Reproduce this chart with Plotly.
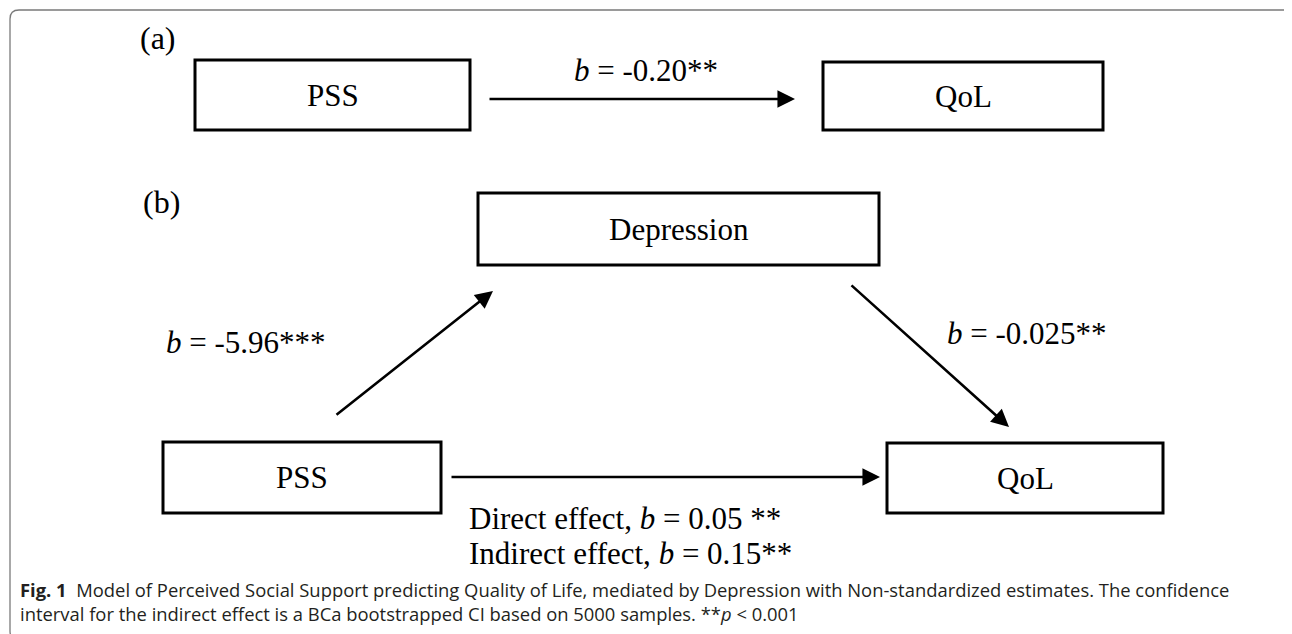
import plotly.graph_objects as go

# ---- content ----
panel_labels = ["(a)", "(b)"]
node_labels = ["PSS", "QoL", "Depression", "PSS", "QoL"]
path_labels = ["<i>b</i> = -0.20**", "<i>b</i> = -5.96***", "<i>b</i> = -0.025**"]
effect_labels = ["Direct effect, <i>b</i> = 0.05 **", "Indirect effect, <i>b</i> = 0.15**"]
caption_lines = [
    "<b>Fig. 1</b>  Model of Perceived Social Support predicting Quality of Life, mediated by Depression with Non-standardized estimates. The confidence",
    "interval for the indirect effect is a BCa bootstrapped CI based on 5000 samples. **<i>p</i> < 0.001",
]

# ---- layout geometry (page pixels) ----
W, H = 1292, 634
OFF = 8  # default page margin around the plot div
panel_pos = [(158, 38), (161, 202)]
boxes = [(195, 60, 470, 130), (823, 62, 1103, 130), (478, 193, 879, 265),
         (163, 442, 441, 513), (887, 443, 1163, 513)]
arrows = [((488, 99), (795, 99)), ((335, 416), (493, 291)),
          ((850, 284), (1009, 427)), ((450, 477), (880, 477))]
path_label_pos = [(646, 70), (246, 342), (1027, 333)]
effect_pos = [(467, 518), (467, 553)]
caption_pos = (18, 601)

SERIF = "Liberation Serif, Times New Roman, serif"
FS = 31
fig = go.Figure()
fig.add_trace(go.Scatter(x=[OFF, W], y=[OFF, H], mode="markers", marker=dict(opacity=0),
                         hoverinfo="skip", showlegend=False))

shapes = []
r = 9
x0, y0, x1, y1 = 10, 10, 1296, 640
shapes.append(dict(type="path", xref="x", yref="y",
                   path=(f"M {x1},{y1} L {x0+r},{y1} Q {x0},{y1} {x0},{y1-r} L {x0},{y0+r} Q {x0},{y0} {x0+r},{y0} "
                         f"L {x1-r},{y0} Q {x1},{y0} {x1},{y0+r} Z"),
                   line=dict(color="#7a7a7a", width=1.3), layer="below"))
for (bx0, by0, bx1, by1) in boxes:
    shapes.append(dict(type="rect", xref="x", yref="y", x0=bx0, y0=by0, x1=bx1, y1=by1,
                       line=dict(color="black", width=3), fillcolor="white"))

ann = []
for lab, (px, py) in zip(panel_labels, panel_pos):
    ann.append(dict(x=px, y=py, text=lab, showarrow=False, font=dict(family=SERIF, size=32, color="black")))
for lab, (bx0, by0, bx1, by1) in zip(node_labels, boxes):
    ann.append(dict(x=(bx0+bx1)/2, y=(by0+by1)/2, text=lab, showarrow=False,
                    font=dict(family=SERIF, size=FS, color="black")))
for (tail, head) in arrows:
    ann.append(dict(x=head[0], y=head[1], ax=tail[0], ay=tail[1], xref="x", yref="y", axref="x", ayref="y",
                    text="", showarrow=True, arrowhead=2, arrowsize=1.35, arrowwidth=2.6, arrowcolor="black"))
for lab, (px, py) in zip(path_labels, path_label_pos):
    ann.append(dict(x=px, y=py, text=lab, showarrow=False, font=dict(family=SERIF, size=FS, color="black")))
for lab, (px, py) in zip(effect_labels, effect_pos):
    ann.append(dict(x=px, y=py, text=lab, showarrow=False, xanchor="left",
                    font=dict(family=SERIF, size=FS, color="black")))
ann.append(dict(x=caption_pos[0], y=caption_pos[1], text="<br>".join(caption_lines), showarrow=False,
                xanchor="left", align="left",
                font=dict(family="Open Sans, sans-serif", size=18.4, color="#231f20")))

fig.update_layout(width=W - OFF, height=H - OFF, margin=dict(l=0, r=0, t=0, b=0),
                  plot_bgcolor="white", paper_bgcolor="white",
                  shapes=shapes, annotations=ann, showlegend=False,
                  xaxis=dict(range=[OFF, W], visible=False, fixedrange=True),
                  yaxis=dict(range=[H, OFF], visible=False, fixedrange=True))
fig.write_html("out.html", config={"displayModeBar": False})
